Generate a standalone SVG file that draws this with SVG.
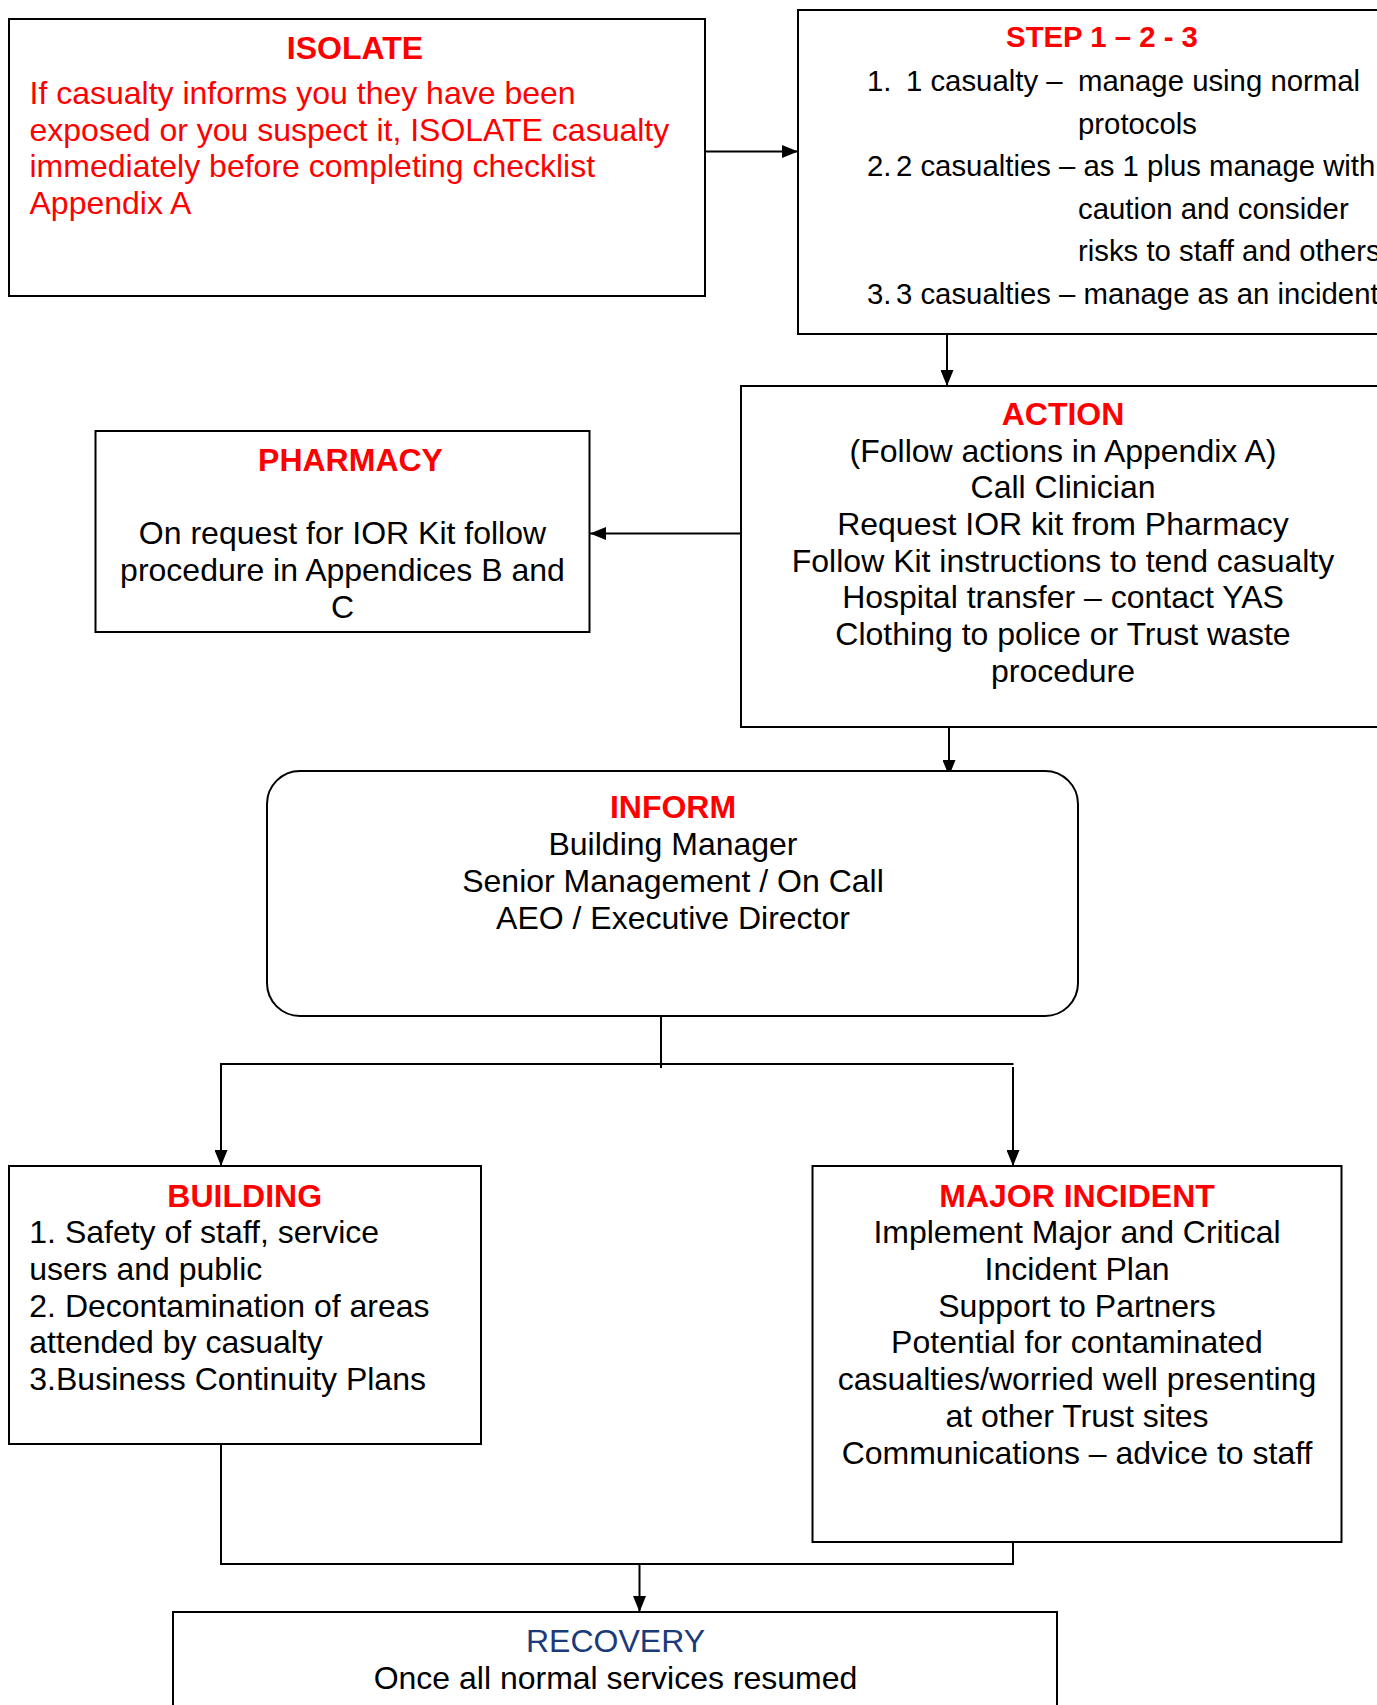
<svg xmlns="http://www.w3.org/2000/svg" width="1377" height="1705" viewBox="0 0 1377 1705">
<style>
.box{fill:#fff;stroke:#000;stroke-width:2}
.ln{fill:none;stroke:#000;stroke-width:2}
text{font-family:"Liberation Sans",Arial,sans-serif;font-size:32px;fill:#000}
.t{font-weight:bold;fill:#f00;text-anchor:middle}
.c{text-anchor:middle}
.red{fill:#f00}
.s{font-size:29.33px}
.blue{fill:#1B3A7A}
</style>
<defs>
<marker id="ah" viewBox="0 0 16 13" refX="16" refY="6.5" markerWidth="16" markerHeight="13" markerUnits="userSpaceOnUse" orient="auto">
<path d="M0,0 L16,6.5 L0,13 Z" fill="#000"/>
</marker>
</defs>
<rect width="1377" height="1705" fill="#fff"/>

<g id="connectors">
<line class="ln" x1="705" y1="151.5" x2="798" y2="151.5" marker-end="url(#ah)"/>
<line class="ln" x1="947" y1="334" x2="947" y2="386" marker-end="url(#ah)"/>
<line class="ln" x1="741" y1="533.5" x2="590" y2="533.5" marker-end="url(#ah)"/>
<line class="ln" x1="949" y1="722" x2="949" y2="776" marker-end="url(#ah)"/>
<line class="ln" x1="661" y1="1012" x2="661" y2="1068"/>
<line class="ln" x1="221" y1="1064" x2="1013.5" y2="1064"/>
<line class="ln" x1="221" y1="1063" x2="221" y2="1166" marker-end="url(#ah)"/>
<line class="ln" x1="1013" y1="1067" x2="1013" y2="1166" marker-end="url(#ah)"/>
<polyline class="ln" points="221,1444 221,1564 1013,1564 1013,1542"/>
<line class="ln" x1="639.5" y1="1564" x2="639.5" y2="1612" marker-end="url(#ah)"/>
</g>

<g id="isolate">
<rect class="box" x="9" y="19" width="696" height="277"/>
<text class="t" x="355" y="59.3">ISOLATE</text>
<text class="red" x="29.5" y="104.2">If casualty informs you they have been</text>
<text class="red" x="29.5" y="140.8">exposed or you suspect it, ISOLATE casualty</text>
<text class="red" x="29.5" y="177.4">immediately before completing checklist</text>
<text class="red" x="29.5" y="214">Appendix A</text>
</g>

<g id="step">
<rect class="box" x="798" y="10" width="620" height="324"/>
<text class="t s" x="1102" y="46.5">STEP 1 – 2 - 3</text>
<text class="s" x="867" y="91">1.</text>
<text class="s" x="906" y="91">1 casualty –</text>
<text class="s" x="1078" y="91">manage using normal</text>
<text class="s" x="1078" y="133.5">protocols</text>
<text class="s" x="867" y="176">2.</text>
<text class="s" x="896" y="176">2 casualties – as 1 plus manage with</text>
<text class="s" x="1078" y="218.5">caution and consider</text>
<text class="s" x="1078" y="261">risks to staff and others</text>
<text class="s" x="867" y="303.5">3.</text>
<text class="s" x="896" y="303.5">3 casualties – manage as an incident</text>
</g>

<g id="action">
<rect class="box" x="741" y="386" width="680" height="341"/>
<text class="t" x="1063" y="425">ACTION</text>
<text class="c" x="1063" y="461.7">(Follow actions in Appendix A)</text>
<text class="c" x="1063" y="498.3">Call Clinician</text>
<text class="c" x="1063" y="535">Request IOR kit from Pharmacy</text>
<text class="c" x="1063" y="571.7">Follow Kit instructions to tend casualty</text>
<text class="c" x="1063" y="608.3">Hospital transfer – contact YAS</text>
<text class="c" x="1063" y="645">Clothing to police or Trust waste</text>
<text class="c" x="1063" y="681.7">procedure</text>
</g>

<g id="pharmacy">
<rect class="box" x="95.5" y="431" width="494" height="201"/>
<text class="t" x="350.5" y="470.7">PHARMACY</text>
<text class="c" x="342.5" y="544.3">On request for IOR Kit follow</text>
<text class="c" x="342.5" y="581">procedure in Appendices B and</text>
<text class="c" x="342.5" y="617.5">C</text>
</g>

<g id="inform">
<rect class="box" x="267" y="771" width="811" height="245" rx="33" ry="33"/>
<text class="t" x="673" y="818.3">INFORM</text>
<text class="c" x="673" y="855">Building Manager</text>
<text class="c" x="673" y="892">Senior Management / On Call</text>
<text class="c" x="673" y="929">AEO / Executive Director</text>
</g>

<g id="building">
<rect class="box" x="9" y="1166" width="472" height="278"/>
<text class="t" x="244.7" y="1206.7">BUILDING</text>
<text x="29.3" y="1243.3">1. Safety of staff, service</text>
<text x="29.3" y="1280">users and public</text>
<text x="29.3" y="1316.7">2. Decontamination of areas</text>
<text x="29.3" y="1353.4">attended by casualty</text>
<text x="29.3" y="1390.1">3.Business Continuity Plans</text>
</g>

<g id="major">
<rect class="box" x="812.5" y="1166" width="529" height="376"/>
<text class="t" x="1077" y="1206.7">MAJOR INCIDENT</text>
<text class="c" x="1077" y="1243.3">Implement Major and Critical</text>
<text class="c" x="1077" y="1280">Incident Plan</text>
<text class="c" x="1077" y="1316.7">Support to Partners</text>
<text class="c" x="1077" y="1353.4">Potential for contaminated</text>
<text class="c" x="1077" y="1390.1">casualties/worried well presenting</text>
<text class="c" x="1077" y="1426.8">at other Trust sites</text>
<text class="c" x="1077" y="1463.5">Communications – advice to staff</text>
</g>

<g id="recovery">
<rect class="box" x="173" y="1612" width="884" height="130"/>
<text class="c blue" x="615.5" y="1651.7">RECOVERY</text>
<text class="c" x="615.5" y="1689.3">Once all normal services resumed</text>
</g>
</svg>
